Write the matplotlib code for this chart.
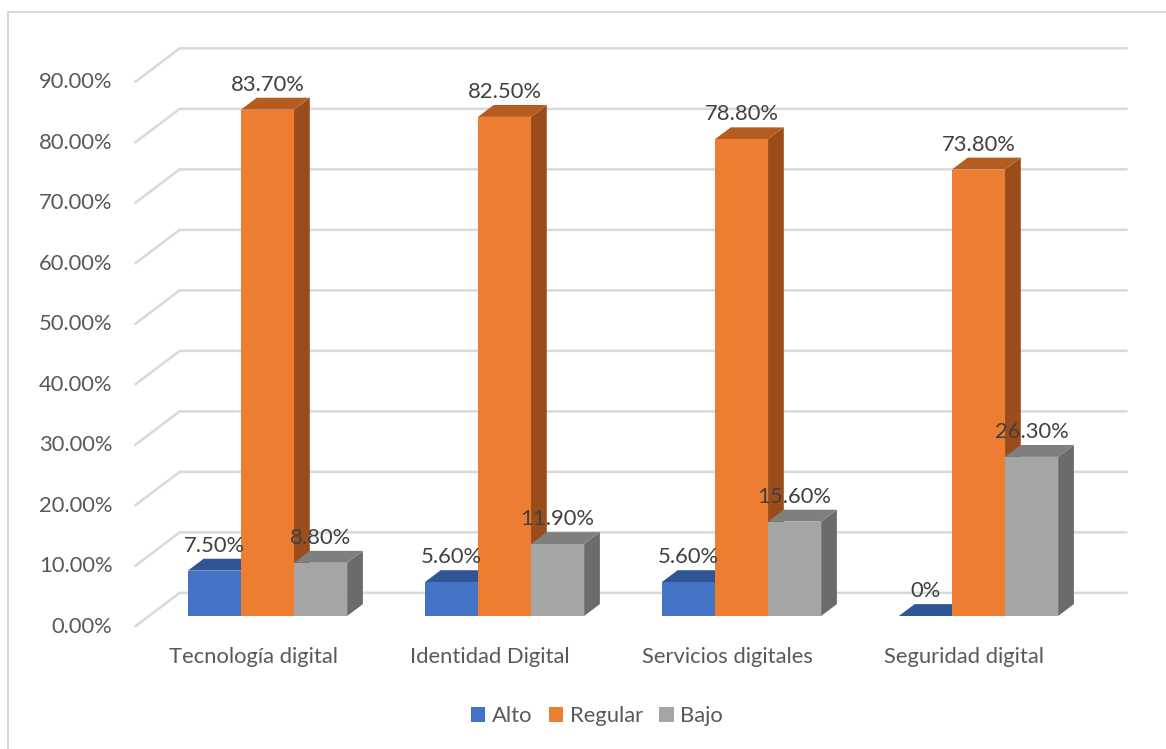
#!/usr/bin/env python
import matplotlib as mpl; mpl.use("Agg")
import matplotlib.pyplot as plt
from matplotlib.patches import Polygon, Patch
from matplotlib.lines import Line2D

# Data
# ------------------------------------------------------------------------------
categories = ["Tecnología digital", "Identidad Digital",
              "Servicios digitales", "Seguridad digital"]
series = ["Alto", "Regular", "Bajo"]
alto = [7.5, 5.6, 5.6, 0.0]
regular = [83.7, 82.5, 78.8, 73.8]
bajo = [8.8, 11.9, 15.6, 26.3]
labels_alto = ["7.50%", "5.60%", "5.60%", "0%"]
labels_regular = ["83.70%", "82.50%", "78.80%", "73.80%"]
labels_bajo = ["8.80%", "11.90%", "15.60%", "26.30%"]
yticks = [0, 10, 20, 30, 40, 50, 60, 70, 80, 90]

# Styles (front, top, side)
# ------------------------------------------------------------------------------
colors = {
    "Alto":    ("#4472C4", "#2F5597", "#2B4E8C"),
    "Regular": ("#ED7D31", "#B65C20", "#9A4C1B"),
    "Bajo":    ("#A5A5A5", "#7F7F7F", "#6B6B6B"),
}
grid_color = "#D9D9D9"
text_dark = "#404040"
text_mid = "#595959"
FS = 15.8
mpl.rcParams["font.family"] = ["Lato", "DejaVu Sans"]

# Oblique geometry: depth vector in data units and depth fractions
DX, DY = 0.19, 5.62          # full floor depth (front edge -> back wall)
F_BAR, F_BAR_BACK = 0.32, 0.67
BAR_W = 0.224

def pt(x, v, f):
    return (x + (f - F_BAR) * DX, v + (f - F_BAR) * DY)

fig = plt.figure(figsize=(11.66, 7.49), dpi=100)
ax = fig.add_axes([0, 0, 1, 1])
ax.set_xlim(-267.5 / 237, (1166 - 267.5) / 237)
ax.set_ylim((616 - 749) / 6.05, 616 / 6.05)
ax.axis("off")

# chart border (top and left visible)
fig.add_artist(Line2D([8 / 1166, 8 / 1166, 1], [0, 1 - 12 / 749, 1 - 12 / 749],
                      transform=fig.transFigure, color="#D9D9D9", lw=1.5))

# gridlines: diagonal on left wall + horizontal on back wall
x_lo, x_hi = -0.5, len(categories) - 0.5
for g in yticks:
    p0 = pt(x_lo, g, 0); p1 = pt(x_lo, g, 1); p2 = pt(x_hi, g, 1)
    ax.plot([p0[0], p1[0], p2[0]], [p0[1], p1[1], p2[1]],
            color=grid_color, lw=1.8, zorder=1, solid_capstyle="butt")
    ax.annotate(f"{g:.2f}%", p0, xytext=(-16, 0), textcoords="offset points",
                ha="right", va="center", fontsize=FS, color=text_mid)

# bars
values = {"Alto": alto, "Regular": regular, "Bajo": bajo}
texts = {"Alto": labels_alto, "Regular": labels_regular, "Bajo": labels_bajo}
for i, cat in enumerate(categories):
    for j, s in enumerate(series):
        v = values[s][i]
        x0 = i + (j - 1.5) * BAR_W
        x1 = x0 + BAR_W
        front, top, side = colors[s]
        z = 3 + j
        side_poly = [pt(x1, 0, F_BAR), pt(x1, 0, F_BAR_BACK),
                     pt(x1, v, F_BAR_BACK), pt(x1, v, F_BAR)]
        top_poly = [pt(x0, v, F_BAR), pt(x1, v, F_BAR),
                    pt(x1, v, F_BAR_BACK), pt(x0, v, F_BAR_BACK)]
        front_poly = [pt(x0, 0, F_BAR), pt(x1, 0, F_BAR),
                      pt(x1, v, F_BAR), pt(x0, v, F_BAR)]
        ax.add_patch(Polygon(side_poly, closed=True, fc=side, ec="none", zorder=z))
        ax.add_patch(Polygon(top_poly, closed=True, fc=top, ec="none", zorder=z))
        ax.add_patch(Polygon(front_poly, closed=True, fc=front, ec="none", zorder=z))
        ax.annotate(texts[s][i], ((x0 + x1) / 2, v), xytext=(0, 18),
                    textcoords="offset points", ha="center", va="center",
                    fontsize=FS, color=text_dark, zorder=10)
    ax.annotate(cat, pt(i, 0, 0), xytext=(0, -22), textcoords="offset points",
                ha="center", va="center", fontsize=FS, color=text_mid)

handles = [Patch(facecolor=colors[s][0], edgecolor="none", label=s) for s in series]
fig.legend(handles=handles, loc="center", bbox_to_anchor=(597 / 1166, 1 - 716 / 749),
           ncol=3, frameon=False, fontsize=FS, handlelength=0.65, handleheight=0.65,
           handletextpad=0.3, columnspacing=0.75, labelcolor=text_mid)

fig.savefig("out.png", dpi=100)
